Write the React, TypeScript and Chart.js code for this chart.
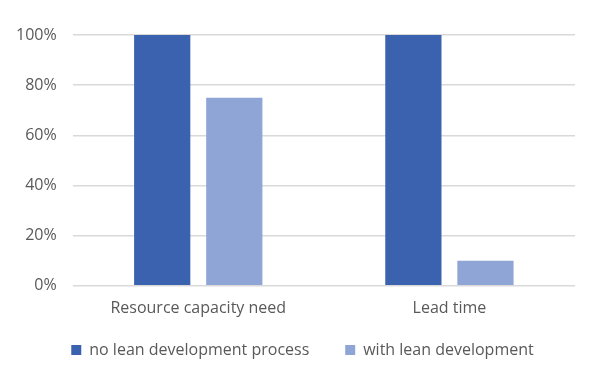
import React, { useEffect, useRef } from "react";
import { Chart, registerables } from "chart.js";

Chart.register(...registerables);

const categories = ["Resource capacity need", "Lead time"];
const seriesNames = ["no lean development process", "with lean development"];
const noLean = [100, 100];
const withLean = [75, 10];
const yTicks = [0, 20, 40, 60, 80, 100];

const colors = ["#3A62AE", "#8FA5D6"];
const FONT = "'Open Sans', sans-serif";

// shifts the legend row horizontally so it lines up with the reference
const legendShift = {
  id: "legendShift",
  afterLayout(chart: any) {
    const lg = chart.legend;
    if (lg) {
      lg.left += 15;
      lg.right += 15;
    }
  },
};

export default function App() {
  const ref = useRef<HTMLCanvasElement | null>(null);
  useEffect(() => {
    document.body.style.margin = "0";
    const ctx = ref.current!;
    const chart = new Chart(ctx, {
      type: "bar",
      data: {
        labels: categories,
        datasets: [
          { label: seriesNames[0] + "      ", data: noLean, backgroundColor: colors[0], barPercentage: 0.78, categoryPercentage: 0.574 },
          { label: seriesNames[1], data: withLean, backgroundColor: colors[1], barPercentage: 0.78, categoryPercentage: 0.574 },
        ],
      },
      plugins: [legendShift],
      options: {
        animation: false,
        responsive: false,
        layout: { padding: { left: 0, right: 25, top: 35, bottom: 13 } },
        plugins: {
          tooltip: { enabled: false },
          legend: {
            position: "bottom",
            labels: {
              color: "#595959",
              font: { family: FONT, size: 16 },
              boxWidth: 10,
              boxHeight: 10,
              padding: 11,
            },
          },
        },
        scales: {
          x: {
            grid: { display: false, drawTicks: false },
            border: { display: false },
            ticks: { color: "#595959", font: { family: FONT, size: 16 }, padding: 13 },
          },
          y: {
            min: 0,
            max: 100,
            afterBuildTicks: (axis: any) => {
              axis.ticks = yTicks.map((v) => ({ value: v }));
            },
            grid: { color: "#D9D9D9", lineWidth: 1.5, drawTicks: false },
            border: { display: false },
            ticks: {
              color: "#595959",
              font: { family: FONT, size: 16 },
              padding: 16,
              callback: (v: any) => v + "%",
            },
          },
        },
      },
    });
    return () => chart.destroy();
  }, []);
  return (
    <div style={{ position: "absolute", left: 0, top: 0, width: 600, height: 381, background: "#fff" }}>
      <canvas ref={ref} width={600} height={381} />
    </div>
  );
}
